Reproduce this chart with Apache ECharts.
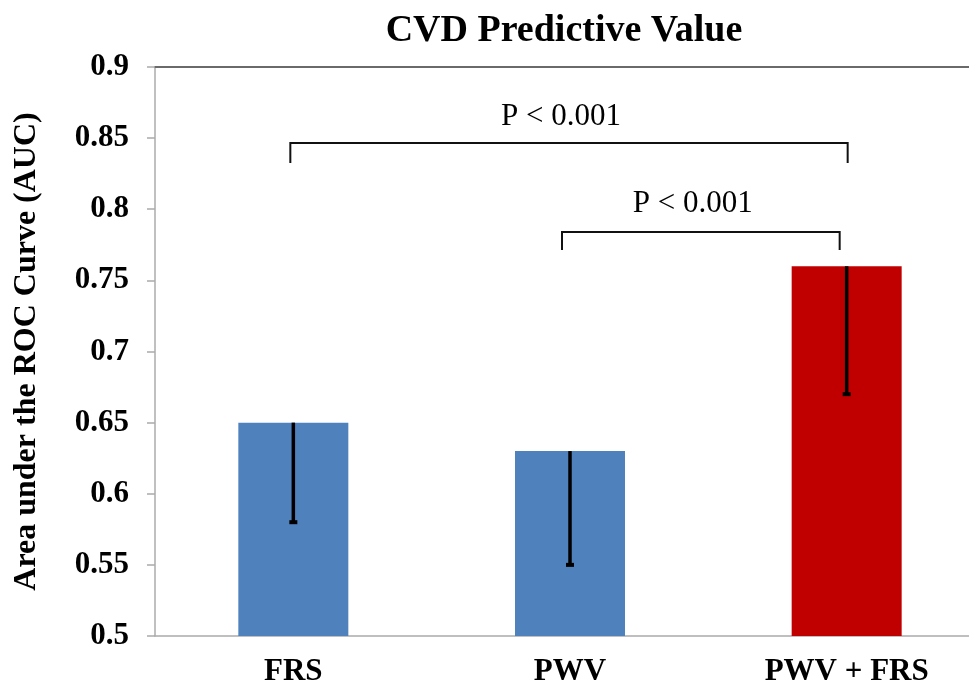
<!DOCTYPE html>
<html>
<head>
<meta charset="utf-8">
<script src="https://cdn.jsdelivr.net/npm/echarts@6/dist/echarts.min.js"></script>
<style>
html,body{margin:0;padding:0;background:#fff;}
#chart{width:969px;height:687px;}
</style>
</head>
<body>
<div id="chart"></div>
<script>
var categories = ['FRS', 'PWV', 'PWV + FRS'];
var aucValues = [0.65, 0.63, 0.76];
var lowerValues = [0.58, 0.55, 0.67];
var barColors = ['#4F81BD', '#4F81BD', '#C00000'];
var yTicks = [0.5, 0.55, 0.6, 0.65, 0.7, 0.75, 0.8, 0.85, 0.9];
// brackets: [fromCategoryIndex, toCategoryIndex, bracketLevel, tickBottomLevel, labelLevel]
var brackets = [
  [0, 2, 0.8466, 0.8325, 0.865],
  [1, 2, 0.784, 0.7714, 0.8035]
];
var bracketLabels = ['P < 0.001', 'P < 0.001'];

var serif = '"Liberation Serif", "Times New Roman", serif';
var chart = echarts.init(document.getElementById('chart'));

var barData = aucValues.map(function (v, i) {
  return { value: v, itemStyle: { color: barColors[i] } };
});
var errData = aucValues.map(function (v, i) { return [i, v, lowerValues[i]]; });
var brData = brackets.map(function (b, i) { return b.concat([i]); });

chart.setOption({
  animation: false,
  backgroundColor: '#fff',
  title: {
    text: 'CVD Predictive Value',
    left: 559, top: 7, textAlign: 'center',
    textStyle: { fontFamily: serif, fontWeight: 'bold', fontSize: 38, color: '#000' }
  },
  grid: { left: 155, width: 830, top: 67, bottom: 51, containLabel: false, outerBoundsMode: 'none' },
  xAxis: [{
    type: 'category', data: categories, position: 'bottom',
    axisLine: { lineStyle: { color: '#ABABAB', width: 1.5 } },
    axisTick: { show: false },
    axisLabel: { fontFamily: serif, fontWeight: 'bold', fontSize: 31, color: '#000', margin: 20 }
  }, {
    type: 'category', data: categories, position: 'top',
    axisLine: { lineStyle: { color: '#6A6A6A', width: 2 } },
    axisTick: { show: false }, axisLabel: { show: false }
  }],
  yAxis: {
    type: 'value', min: yTicks[0], max: yTicks[yTicks.length - 1], interval: 0.05,
    name: 'Area under the ROC Curve (AUC)', nameLocation: 'middle', nameGap: 112,
    nameTextStyle: { fontFamily: serif, fontWeight: 'bold', fontSize: 32, color: '#000' },
    axisLine: { show: true, lineStyle: { color: '#ABABAB', width: 1.5 } },
    axisTick: { show: true, length: 8, lineStyle: { color: '#ABABAB', width: 1.5 } },
    splitLine: { show: false },
    axisLabel: {
      fontFamily: serif, fontWeight: 'bold', fontSize: 31, color: '#000', margin: 26,
      formatter: function (v) { return String(+v.toFixed(2)); }
    }
  },
  series: [{
    type: 'bar', data: barData, barWidth: 110, xAxisIndex: 0
  }, {
    type: 'custom', xAxisIndex: 0, data: errData, z: 5,
    renderItem: function (params, api) {
      var top = api.coord([api.value(0), api.value(1)]);
      var bot = api.coord([api.value(0), api.value(2)]);
      return {
        type: 'group', children: [
          { type: 'line', shape: { x1: top[0], y1: top[1], x2: bot[0], y2: bot[1] },
            style: { stroke: '#000', lineWidth: 3.5, fill: 'none' } },
          { type: 'rect', shape: { x: bot[0] - 4, y: bot[1] - 2, width: 8, height: 4 },
            style: { fill: '#000' } }
        ]
      };
    }
  }, {
    type: 'custom', xAxisIndex: 0, data: brData, z: 5,
    renderItem: function (params, api) {
      var a = api.coord([api.value(0), api.value(2)]);
      var b = api.coord([api.value(1), api.value(2)]);
      var t = api.coord([api.value(0), api.value(3)]);
      var l = api.coord([api.value(0), api.value(4)]);
      var inner = api.value(0) > 0;
      var x0 = a[0] + (inner ? -8 : -3);
      var x1 = b[0] + (inner ? -7 : 1);
      var st = { stroke: '#111', lineWidth: 2, fill: 'none' };
      return {
        type: 'group', children: [
          { type: 'polyline', shape: { points: [[x0, t[1]], [x0, a[1]], [x1, b[1]], [x1, t[1]]] }, style: st },
          { type: 'text', x: (x0 + x1) / 2 - 8, y: l[1],
            style: { text: bracketLabels[api.value(5)], fontFamily: serif, fontSize: 31, fill: '#000',
              align: 'center', verticalAlign: 'middle' } }
        ]
      };
    }
  }]
});
</script>
</body>
</html>
